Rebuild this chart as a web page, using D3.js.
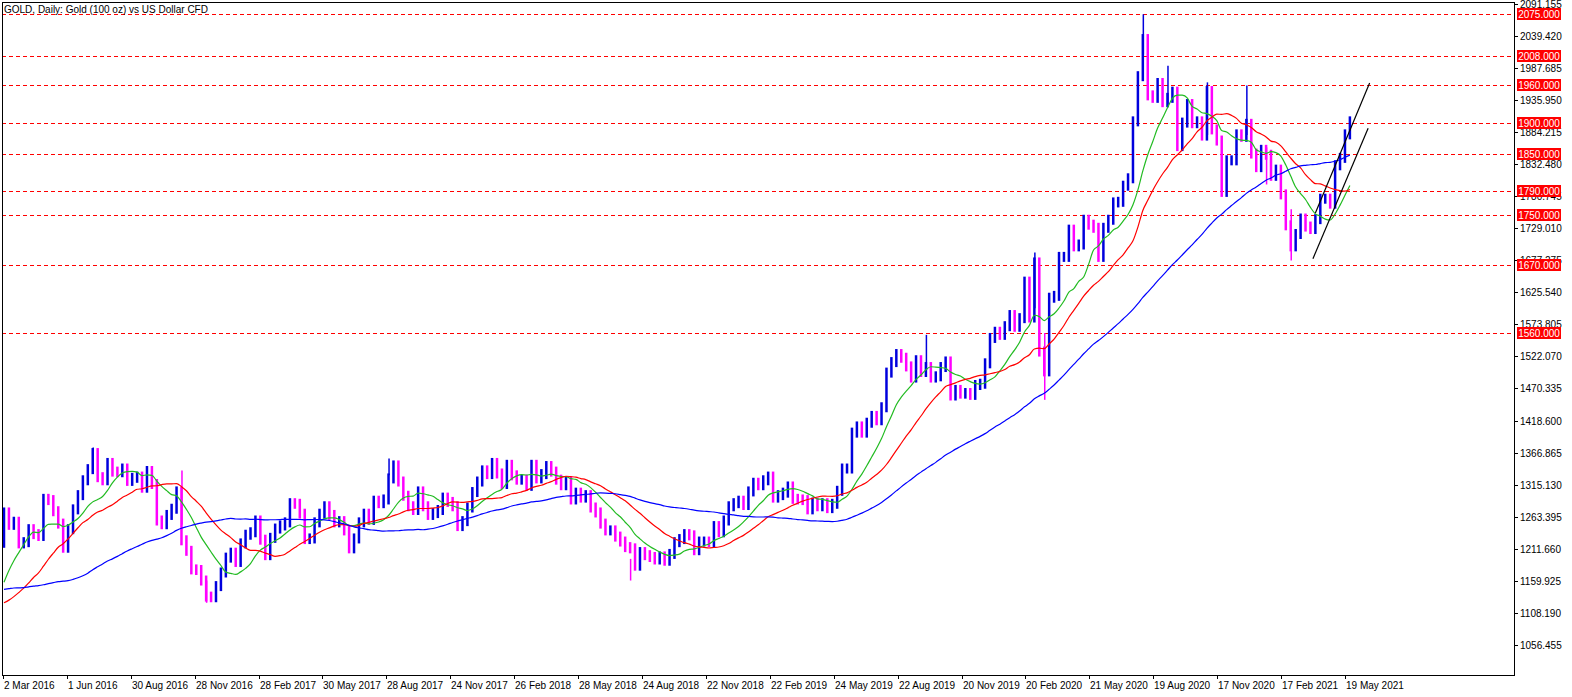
<!DOCTYPE html>
<html>
<head>
<meta charset="utf-8">
<script src="https://cdn.jsdelivr.net/npm/d3@7"></script>
<style>
  body { margin: 0; background: #fff; }
  svg text { font-family: "Liberation Sans", Arial, sans-serif; font-size: 10px; }
</style>
</head>
<body>
<svg id="chart" width="1572" height="697"></svg>
<script>
// weekly closes before the visible range (seed for the moving averages)
var priorCloses = [1167,1152,1182,1199,1201,1207,1203,1178,1175,1189,1225,
  1204,1190,1168,1180,1201,1173,1168,1157,1131,1085,1094,1094,1113,1160,1134,1121,1108,1137,1146,1137,
  1156,1177,1162,1142,1088,1081,1076,1056,1085,1075,1065,1076,1061,1097,1088,1096,1117,1157,1239,1227,1221];

// weekly closes, from the first week of March 2016
var closes = [
  // 2016
  1270,1250,1255,1220,1222,1243,1235,1232,1292,1290,1272,1252,1213,1243,1275,1298,1322,1340,1366,1327,1322,1350,
  1336,1335,1341,1321,1326,1328,1310,1337,1316,1257,1251,1266,1276,1304,1225,1208,1178,1177,1160,1134,1133,1151,
  // 2017
  1173,1197,1205,1190,1220,1234,1238,1257,1226,1201,1229,1244,1249,1254,1285,1284,1268,1227,1228,1254,1268,1280,
  1266,1254,1256,1241,1212,1228,1254,1268,1258,1289,1285,1291,1325,1346,1320,1297,1280,1274,1304,1280,1266,1269,
  1274,1294,1287,1280,1248,1256,1278,1303,
  // 2018
  1320,1338,1332,1350,1333,1316,1347,1330,1323,1323,1313,1347,1325,1332,1345,1336,1323,1314,1320,1291,1302,1294,
  1298,1278,1270,1252,1241,1241,1231,1223,1214,1212,1184,1206,1201,1198,1194,1199,1192,1203,1222,1227,1235,1233,
  1209,1223,1223,1222,1248,1238,1257,1280,
  // 2019
  1285,1289,1282,1304,1318,1314,1322,1328,1294,1298,1302,1312,1292,1291,1290,1275,1286,1280,1285,1277,1284,1305,
  1341,1341,1399,1409,1399,1415,1426,1419,1440,1496,1513,1526,1520,1506,1488,1516,1497,1505,1488,1490,1505,1514,
  1459,1468,1462,1463,1460,1476,1478,1511,
  // 2020
  1552,1562,1557,1571,1589,1570,1584,1643,1585,1674,1530,1498,1617,1620,1683,1683,1727,1700,1703,1743,1735,1730,
  1683,1730,1743,1771,1772,1798,1810,1902,1975,2035,1944,1940,1964,1933,1940,1950,1862,1900,1930,1899,1902,1879,
  1951,1889,1871,1788,1839,1839,1881,1877,
  // 2021
  1898,1850,1828,1856,1848,1814,1824,1784,1734,1700,1720,1745,1732,1728,1744,1777,1777,1769,1831,1843,1881,1902
];
// notable weekly extremes: [week, high, low]
var extremes = [[18, 1375, 1340], [36, 1338, 1250], [41, 1160, 1124], [78, 1357, 1330], [127, 1195, 1160],
  [187, 1557, 1500], [209, 1690, 1600], [211, 1560, 1452], [231, 2075, 2010], [236, 1992, 1925], [244, 1965, 1880],
  [252, 1960, 1880], [256, 1860, 1800], [261, 1760, 1677]];

var levels = [2075, 2008, 1960, 1900, 1850, 1790, 1750, 1670, 1560];
var priceTicks = [2091.155,2039.420,1987.685,1935.950,1884.215,1832.480,1780.745,1729.010,1677.275,1625.540,
  1573.805,1522.070,1470.335,1418.600,1366.865,1315.130,1263.395,1211.660,1159.925,1108.190,1056.455];
var dateLabels = ["2 Mar 2016","1 Jun 2016","30 Aug 2016","28 Nov 2016","28 Feb 2017","30 May 2017","28 Aug 2017",
  "24 Nov 2017","26 Feb 2018","28 May 2018","24 Aug 2018","22 Nov 2018","22 Feb 2019","24 May 2019","22 Aug 2019",
  "20 Nov 2019","20 Feb 2020","21 May 2020","19 Aug 2020","17 Nov 2020","17 Feb 2021","19 May 2021"];
// channel lines: [week, price] pairs
var trendLines = [[[266, 1754], [277, 1964]], [[265.5, 1680], [276.7, 1891]]];
var maPeriods = [{n: 10, color: "#22bb22"}, {n: 20, color: "#ff0000"}, {n: 50, color: "#0000ff"}];

var svg = d3.select("#chart");
var plotL = 2, plotR = 1514, plotT = 2, plotB = 675;

var x = d3.scaleLinear().domain([0, closes.length - 1]).range([4, 4 + (closes.length - 1) * 4.93]);
var y = d3.scaleLinear().domain([1560, 2075]).range([333, 14.3]);
var xDate = d3.scaleLinear().domain([0, dateLabels.length - 1]).range([3, 3 + 21 * 63.9]);

svg.append("clipPath").attr("id", "plot")
  .append("rect").attr("x", plotL).attr("y", plotT).attr("width", plotR - plotL).attr("height", plotB - plotT);
var plot = svg.append("g").attr("clip-path", "url(#plot)");

// support / resistance levels
plot.selectAll(".lvl").data(levels).enter().append("line")
  .attr("x1", plotL).attr("x2", plotR)
  .attr("y1", function (d) { return Math.round(y(d)) + 0.5; })
  .attr("y2", function (d) { return Math.round(y(d)) + 0.5; })
  .attr("stroke", "#ff0000").attr("stroke-dasharray", "4,3");

// bars
var all = priorCloses.concat(closes);
var off = priorCloses.length;
function colorOf(i) { return closes[i] >= all[off + i - 1] ? "#0000dd" : "#ff00ff"; }
plot.selectAll(".bar").data(closes).enter().append("line")
  .attr("x1", function (d, i) { return x(i); })
  .attr("x2", function (d, i) { return x(i); })
  .attr("y1", function (d, i) { return y(Math.max(d, all[off + i - 1])) - 5; })
  .attr("y2", function (d, i) { return y(Math.min(d, all[off + i - 1])) + 5; })
  .attr("stroke", function (d, i) { return colorOf(i); })
  .attr("stroke-width", 2.5);
plot.selectAll(".wick").data(extremes).enter().append("line")
  .attr("x1", function (d) { return x(d[0]) + 0.5; })
  .attr("x2", function (d) { return x(d[0]) + 0.5; })
  .attr("y1", function (d) { return y(d[1]); })
  .attr("y2", function (d) { return y(d[2]); })
  .attr("stroke", function (d) { return colorOf(d[0]); })
  .attr("stroke-width", 1.5);

// moving averages
maPeriods.forEach(function (m) {
  var pts = closes.map(function (d, i) {
    return [i, d3.mean(all.slice(off + i - m.n + 1, off + i + 1))];
  });
  plot.append("path").datum(pts)
    .attr("fill", "none").attr("stroke", m.color).attr("stroke-width", 1.2)
    .attr("d", d3.line().curve(d3.curveMonotoneX).x(function (p) { return x(p[0]); }).y(function (p) { return y(p[1]); }));
});

// channel
plot.selectAll(".tl").data(trendLines).enter().append("line")
  .attr("x1", function (d) { return x(d[0][0]); }).attr("y1", function (d) { return y(d[0][1]); })
  .attr("x2", function (d) { return x(d[1][0]); }).attr("y2", function (d) { return y(d[1][1]); })
  .attr("stroke", "#000").attr("stroke-width", 1.2);

// frame
svg.append("rect").attr("x", plotL + 0.5).attr("y", plotT + 0.5)
  .attr("width", plotR - plotL).attr("height", plotB - plotT)
  .attr("fill", "none").attr("stroke", "#000");

// price axis
var pt = svg.append("g").selectAll("g").data(priceTicks).enter().append("g")
  .attr("transform", function (d) { return "translate(" + plotR + "," + Math.round(y(d)) + ")"; });
pt.append("line").attr("x1", 0).attr("x2", 4).attr("y1", 0.5).attr("y2", 0.5).attr("stroke", "#000");
pt.append("text").attr("x", 6).attr("dy", "0.35em").text(function (d) { return d.toFixed(3); });

var lb = svg.append("g").selectAll("g").data(levels).enter().append("g")
  .attr("transform", function (d) { return "translate(" + (plotR + 3) + "," + Math.round(y(d)) + ")"; });
lb.append("rect").attr("x", 0).attr("y", -6).attr("width", 44).attr("height", 12).attr("fill", "#ff0000");
lb.append("text").attr("x", 22).attr("dy", "0.35em").attr("text-anchor", "middle")
  .attr("fill", "#fff").text(function (d) { return d.toFixed(3); });

// date axis
var dt = svg.append("g").selectAll("g").data(dateLabels).enter().append("g")
  .attr("transform", function (d, i) { return "translate(" + Math.round(xDate(i)) + "," + plotB + ")"; });
dt.append("line").attr("x1", 0.5).attr("x2", 0.5).attr("y1", 0).attr("y2", 4).attr("stroke", "#000");
dt.append("text").attr("x", 1).attr("y", 14).text(function (d) { return d; });

svg.append("text").attr("x", 4).attr("y", 13).text("GOLD, Daily:  Gold (100 oz) vs US Dollar CFD");
</script>
</body>
</html>
